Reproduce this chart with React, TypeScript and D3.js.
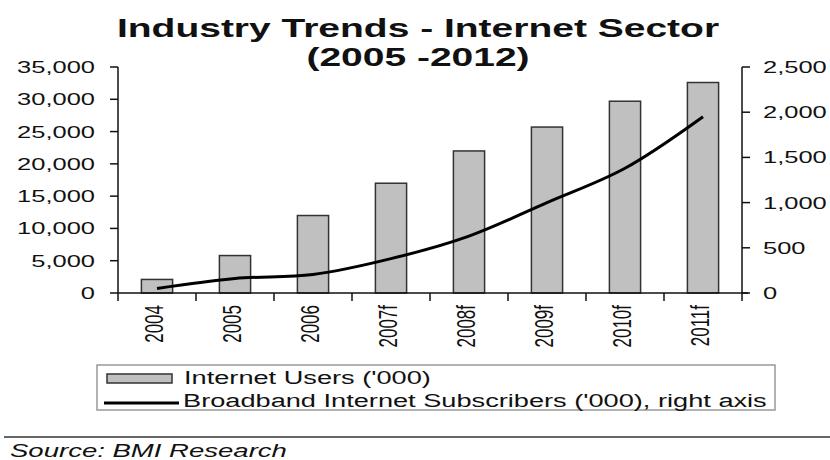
import React from "react";
import * as d3 from "d3";

const categories = ["2004", "2005", "2006", "2007f", "2008f", "2009f", "2010f", "2011f"];
const internetUsers = [2100, 5800, 12000, 17000, 22000, 25700, 29700, 32600];
const broadband = [50, 160, 205, 380, 630, 1000, 1380, 1950];
const leftTicks = [0, 5000, 10000, 15000, 20000, 25000, 30000, 35000];
const rightTicks = [0, 500, 1000, 1500, 2000, 2500];

const W = 830;
const H = 460;
const SX = 1.5;
const FONT = "'Liberation Sans', Arial, sans-serif";
const FS = 17;

function T({ x, y, children, anchor = "start", size = FS, weight = "normal", italic = false, rotate = 0, sx = SX }: any) {
  return (
    <text
      transform={`translate(${x},${y}) scale(${sx},1)${rotate ? ` rotate(${rotate})` : ""}`}
      textAnchor={anchor}
      fontFamily={FONT}
      fontSize={size}
      fontWeight={weight}
      fontStyle={italic ? "italic" : "normal"}
      fill="#111"
    >
      {children}
    </text>
  );
}

export default function App() {
  const left = 118, right = 742, top = 67, bottom = 293;
  const x = d3.scaleBand<string>().domain(categories).range([left, right]).paddingInner(0.6).paddingOuter(0.3);
  const xb = d3.scaleBand<string>().domain(categories).range([left, right]);
  const yL = d3.scaleLinear().domain([0, 35000]).range([bottom, top]);
  const yR = d3.scaleLinear().domain([0, 2500]).range([bottom, top]);
  const fmt = d3.format(",");
  const line = d3
    .line<number>()
    .x((_, i) => (xb(categories[i]) as number) + xb.bandwidth() / 2)
    .y((d) => yR(d))
    .curve(d3.curveCatmullRom.alpha(0.5));

  const boundaries = d3.range(categories.length + 1).map((i) => left + i * xb.bandwidth());

  return (
    <svg width={W} height={H} style={{ position: "absolute", left: 0, top: 0, background: "#fff" }}>
      <rect x={0} y={0} width={W} height={H} fill="#fff" />
      <T x={418} y={37} anchor="middle" size={26} weight="bold">Industry Trends - Internet Sector</T>
      <T x={418} y={66} anchor="middle" size={26} weight="bold">(2005 -2012)</T>

      {categories.map((c, i) => (
        <rect
          key={c}
          x={x(c)}
          y={yL(internetUsers[i])}
          width={x.bandwidth()}
          height={bottom - yL(internetUsers[i])}
          fill="#c0c0c0"
          stroke="#333"
          strokeWidth={1.5}
        />
      ))}

      <path d={line(broadband) || ""} fill="none" stroke="#000" strokeWidth={3} />

      {/* left axis */}
      <line x1={left} x2={left} y1={top} y2={bottom} stroke="#111" strokeWidth={1.5} />
      {leftTicks.map((t) => (
        <g key={t}>
          <line x1={left - 8} x2={left} y1={yL(t)} y2={yL(t)} stroke="#111" strokeWidth={1.5} />
          <T x={95} y={yL(t) + 6} anchor="end">{fmt(t)}</T>
        </g>
      ))}

      {/* right axis */}
      <line x1={right} x2={right} y1={top} y2={bottom} stroke="#111" strokeWidth={1.5} />
      {rightTicks.map((t) => (
        <g key={t}>
          <line x1={right} x2={right + 8} y1={yR(t)} y2={yR(t)} stroke="#111" strokeWidth={1.5} />
          <T x={763} y={yR(t) + 6} anchor="start">{fmt(t)}</T>
        </g>
      ))}

      {/* x axis */}
      <line x1={left} x2={right + 6} y1={bottom} y2={bottom} stroke="#111" strokeWidth={1.5} />
      {boundaries.map((b, i) => (
        <line key={i} x1={b} x2={b} y1={bottom} y2={bottom + 8} stroke="#111" strokeWidth={1.5} />
      ))}
      {categories.map((c) => (
        <T key={c} x={(xb(c) as number) + xb.bandwidth() / 2 + 6} y={305} anchor="end" rotate={-90}>{c}</T>
      ))}

      {/* legend */}
      <rect x={97} y={365} width={678} height={45} fill="none" stroke="#999" strokeWidth={1.5} />
      <rect x={107} y={374} width={65} height={9} fill="#c0c0c0" stroke="#333" strokeWidth={1.5} />
      <T x={184} y={384} size={18} sx={1.51}>Internet Users ('000)</T>
      <line x1={104} x2={179} y1={403} y2={403} stroke="#000" strokeWidth={3} />
      <T x={183} y={407} size={18} sx={1.51}>Broadband Internet Subscribers ('000), right axis</T>

      {/* source */}
      <line x1={4} x2={830} y1={437} y2={437} stroke="#333" strokeWidth={1.5} />
      <T x={10} y={457} size={18} sx={1.53} italic>Source: BMI Research</T>
    </svg>
  );
}
